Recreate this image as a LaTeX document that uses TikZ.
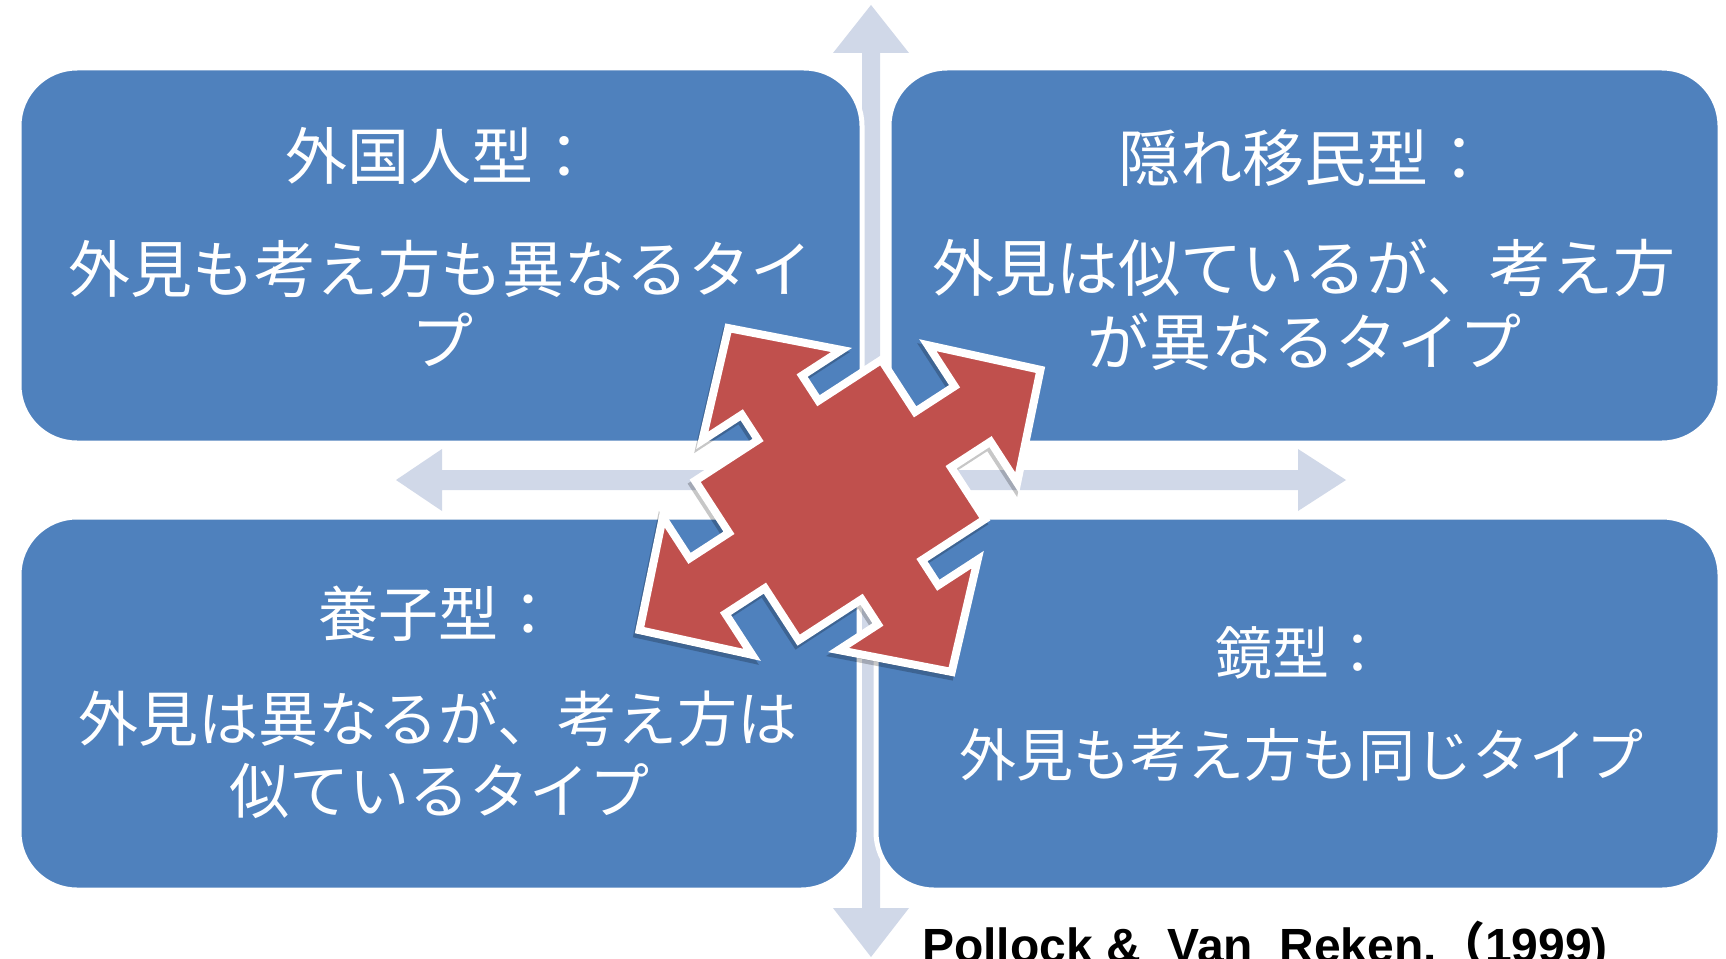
\documentclass[tikz,border=0pt]{standalone}
\usepackage{fontspec}
\setmainfont{Liberation Sans}
\newfontfamily\jpfont{Noto Sans CJK JP}
\definecolor{boxblue}{HTML}{4F81BD}
\definecolor{axiscol}{HTML}{D0D8E8}
\definecolor{quadred}{HTML}{C0504D}
\tikzset{
  qbox/.style={fill=boxblue, draw=white, line width=5pt, rounded corners=58pt,
    inner sep=0pt, outer sep=0pt},
  axisarrow/.style={fill=axiscol, draw=none},
  jt/.style={text=white, anchor=base, inner sep=0pt},
  quadshape/.style={fill=quadred, draw=white, line width=8pt, line join=miter},
  quadshadow/.style={fill=black, draw=black, line width=8pt, opacity=0.22},
  cite/.style={anchor=base west, inner sep=0pt, font=\bfseries\fontsize{48}{48}\selectfont}
}
\newcommand\quadoutline{(0,-205) -- (83,-125) -- (36,-125) -- (36,-95) -- (111,-95) -- (111,-33) -- (158,-33) -- (158,-82) -- (239,0) -- (158,82) -- (158,33) -- (111,33) -- (111,95) -- (36,95) -- (36,125) -- (83,125) -- (0,205) -- (-83,125) -- (-36,125) -- (-36,95) -- (-111,95) -- (-111,33) -- (-158,33) -- (-158,82) -- (-239,0) -- (-158,-82) -- (-158,-33) -- (-111,-33) -- (-111,-95) -- (-36,-95) -- (-36,-125) -- (-83,-125) -- cycle}
\begin{document}
\begin{tikzpicture}[x=1pt, y=-1pt]
\useasboundingbox (0,0) rectangle (1726,958);
\fill[white] (0,0) rectangle (1726,958);

% axes (double arrows)
\path[axisarrow] (871,5) -- (909,53) -- (880,53) -- (880,908) -- (909,908) -- (871,957) -- (833,908) -- (862,908) -- (862,53) -- (833,53) -- cycle;
\path[axisarrow] (396,480) -- (442,449) -- (442,470) -- (1298,470) -- (1298,449) -- (1346,480) -- (1298,511) -- (1298,490) -- (442,490) -- (442,511) -- cycle;

% quadrant boxes
\node[qbox, minimum width=843pt, minimum height=375pt] (tl) at (440.5,255.5) {};
\node[qbox, minimum width=831pt, minimum height=375pt] (tr) at (1304.5,255.5) {};
\node[qbox, minimum width=840pt, minimum height=373pt] (bl) at (439,703.5) {};
\node[qbox, minimum width=844pt, minimum height=373pt] (br) at (1298,703.5) {};

% texts
\node[jt, font=\jpfont\fontsize{62}{72}\selectfont] (tlt) at (440,179) {外国人型：};
\node[jt, font=\jpfont\fontsize{62}{72}\selectfont] (tl1) at (440,292) {外見も考え方も異なるタイ};
\node[jt, font=\jpfont\fontsize{62}{72}\selectfont] (tl2) at (442,364) {プ};

\node[jt, font=\jpfont\fontsize{62}{72}\selectfont] (trt) at (1304,181) {隠れ移民型：};
\node[jt, font=\jpfont\fontsize{62}{72}\selectfont] (tr1) at (1304,291) {外見は似ているが、考え方};
\node[jt, font=\jpfont\fontsize{62}{72}\selectfont] (tr2) at (1304,365) {が異なるタイプ};

\node[jt, font=\jpfont\fontsize{60}{70}\selectfont] (blt) at (438,636) {養子型：};
\node[jt, font=\jpfont\fontsize{60}{70}\selectfont] (bl1) at (438,741) {外見は異なるが、考え方は};
\node[jt, font=\jpfont\fontsize{60}{70}\selectfont] (bl2) at (439,813) {似ているタイプ};

\node[jt, font=\jpfont\fontsize{57}{66}\selectfont] (brt) at (1301,674) {鏡型：};
\node[jt, font=\jpfont\fontsize{57}{66}\selectfont] (br1) at (1301,776) {外見も考え方も同じタイプ};

% central quad arrow
\begin{scope}[shift={(838,504)}, rotate=33]
  \path[quadshadow] \quadoutline;
\end{scope}
\begin{scope}[shift={(840,500)}, rotate=33]
  \path[quadshape] \quadoutline;
\end{scope}

% citation
\node[cite] (src) at (922,962) {Pollock \&~~Van~~Reken.{\jpfont （}1999)};
\end{tikzpicture}
\end{document}
